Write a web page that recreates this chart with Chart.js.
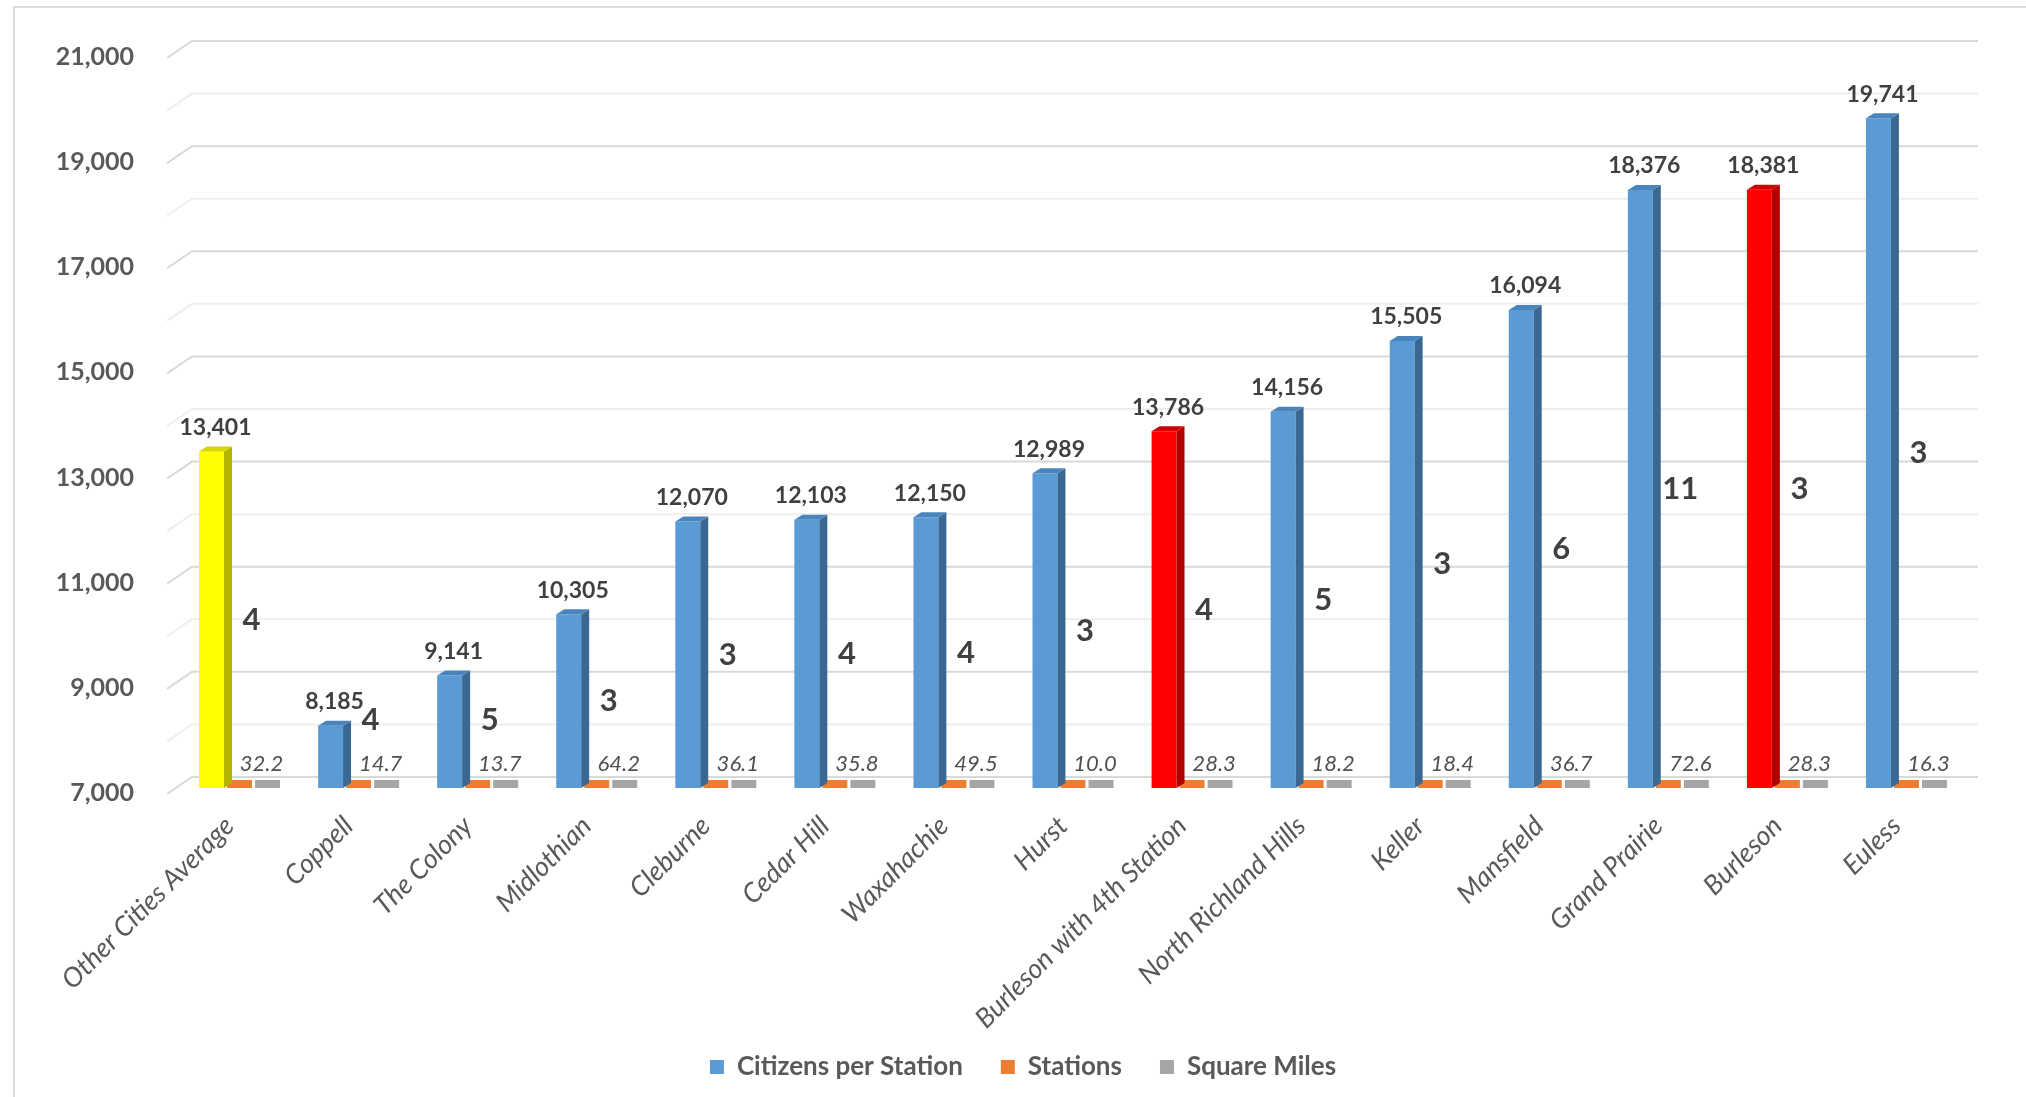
<!DOCTYPE html>
<html>
<head>
<meta charset="utf-8">
<script src="https://cdn.jsdelivr.net/npm/chart.js@4/dist/chart.umd.min.js"></script>
<style>
  body { margin: 0; background: #fff; overflow: hidden; }
  #wrap { position: absolute; left: 0; top: 0; width: 2026px; height: 1097px; }
  #frame { position: absolute; left: 13px; top: 6px; width: 2100px; height: 1200px; border: 2px solid #dcdcdc; box-sizing: border-box; }
</style>
</head>
<body>
<div id="frame"></div>
<div id="wrap"><canvas id="barChart"></canvas></div>
<script>
// datos
var ciudades = ['Other Cities Average', 'Coppell', 'The Colony', 'Midlothian', 'Cleburne', 'Cedar Hill', 'Waxahachie', 'Hurst',
  'Burleson with 4th Station', 'North Richland Hills', 'Keller', 'Mansfield', 'Grand Prairie', 'Burleson', 'Euless'];
var citizensPerStation = [13401, 8185, 9141, 10305, 12070, 12103, 12150, 12989, 13786, 14156, 15505, 16094, 18376, 18381, 19741];
var stations = [4, 4, 5, 3, 3, 4, 4, 3, 4, 5, 3, 6, 11, 3, 3];
var squareMiles = [32.2, 14.7, 13.7, 64.2, 36.1, 35.8, 49.5, 10.0, 28.3, 18.2, 18.4, 36.7, 72.6, 28.3, 16.3];
var yMin = 7000, yMax = 21000, yStep = 1000;

// colores: promedio en amarillo, Burleson en rojo
function colorFrente(c) {
  if (c === 'Other Cities Average') return '#FFFF00';
  if (c.indexOf('Burleson') === 0) return '#FF0000';
  return '#5B9BD5';
}
function colorLado(c) {
  if (c === 'Other Cities Average') return '#B5B500';
  if (c.indexOf('Burleson') === 0) return '#B00000';
  return '#3A6892';
}
function colorTapa(c) {
  if (c === 'Other Cities Average') return '#D6D600';
  if (c.indexOf('Burleson') === 0) return '#D40000';
  return '#4A84BD';
}

var fmt = function (v) { return Number(v).toLocaleString('en-US'); };

// lineas de la pared del fondo (efecto 3D como en Excel)
var paredFondo = {
  id: 'paredFondo',
  afterLayout: function (chart) {
    // las etiquetas inclinadas pueden bajar hasta la leyenda sin recortarse
    chart.scales.x.bottom = chart.height;
    // la leyenda del original esta algo desplazada a la derecha
    chart.legend.left += 40;
    chart.legend.right += 40;
  },
  beforeDatasetsDraw: function (chart) {
    var ctx = chart.ctx, y = chart.scales.y, a = chart.chartArea;
    ctx.save();
    ctx.lineWidth = 2;
    for (var v = yMin; v <= yMax; v += yStep) {
      var py = y.getPixelForValue(v);
      var mayor = (v - yMin) % 2000 === 0;
      ctx.strokeStyle = mayor ? '#d9d9d9' : '#eeeeee';
      ctx.beginPath();
      ctx.moveTo(a.left - 13, py + 6);
      ctx.lineTo(a.left + 12, py - 11);
      ctx.lineTo(a.right + 12, py - 11);
      ctx.stroke();
    }
    ctx.restore();
  }
};

// caras laterales y superiores de las columnas + etiquetas
var columnas3D = {
  id: 'columnas3D',
  afterDatasetsDraw: function (chart) {
    var ctx = chart.ctx;
    var dx = 8, dy = -5;
    var suelo = chart.chartArea.bottom;
    var m0 = chart.getDatasetMeta(0), m1 = chart.getDatasetMeta(1), m2 = chart.getDatasetMeta(2);
    ctx.save();
    m0.data.forEach(function (bar, i) {
      var c = ciudades[i];
      var l = bar.x - bar.width / 2, r = bar.x + bar.width / 2, t = bar.y, b = Math.min(bar.base, suelo);
      ctx.fillStyle = colorLado(c);
      ctx.beginPath();
      ctx.moveTo(r, t); ctx.lineTo(r + dx, t + dy); ctx.lineTo(r + dx, b + dy); ctx.lineTo(r, b);
      ctx.closePath(); ctx.fill();
      ctx.fillStyle = colorTapa(c);
      ctx.beginPath();
      ctx.moveTo(l, t); ctx.lineTo(r, t); ctx.lineTo(r + dx, t + dy); ctx.lineTo(l + dx, t + dy);
      ctx.closePath(); ctx.fill();

      // valor de habitantes por estacion
      ctx.fillStyle = '#404040';
      ctx.font = 'bold 23px Lato';
      ctx.textAlign = 'center';
      ctx.textBaseline = 'middle';
      ctx.fillText(fmt(citizensPerStation[i]), bar.x + 4, t - 24);

      // numero de estaciones, a media altura de la columna (sin pisar las millas)
      var o = m1.data[i];
      ctx.font = 'bold 31px Lato';
      ctx.fillText(String(stations[i]), o.x + 12, Math.min((t + b) / 2, b - 68));

      // millas cuadradas
      var g = m2.data[i];
      ctx.fillStyle = '#505050';
      ctx.font = 'italic 22px Lato';
      ctx.fillText(squareMiles[i].toFixed(1), g.x - 6, g.base - 24);
    });
    ctx.restore();
  }
};

var ctx = document.getElementById('barChart').getContext('2d');
var barChart = new Chart(ctx, {
  type: 'bar',
  data: {
    labels: ciudades,
    datasets: [
      { label: 'Citizens per Station', data: citizensPerStation, yAxisID: 'y',
        backgroundColor: ciudades.map(colorFrente) },
      { label: 'Stations', data: stations, yAxisID: 'y2',
        backgroundColor: '#ED7D31', minBarLength: 8 },
      { label: 'Square Miles', data: squareMiles, yAxisID: 'y2',
        backgroundColor: '#A5A5A5', minBarLength: 8 }
    ]
  },
  options: {
    responsive: true,
    maintainAspectRatio: false,
    animation: false,
    datasets: { bar: { categoryPercentage: 0.706, barPercentage: 0.89 } },
    layout: { padding: { left: 0, right: 60, top: 52, bottom: 7 } },
    plugins: {
      tooltip: { enabled: false },
      legend: {
        position: 'bottom',
        labels: {
          color: '#595959',
          font: { family: 'Lato', size: 26, weight: 'bold' },
          boxWidth: 14, boxHeight: 14, padding: 38,
          generateLabels: function (chart) {
            return chart.data.datasets.map(function (d, i) {
              return { text: d.label, fillStyle: i === 0 ? '#5B9BD5' : d.backgroundColor,
                strokeStyle: 'rgba(0,0,0,0)', lineWidth: 0, datasetIndex: i, fontColor: '#595959' };
            });
          }
        }
      }
    },
    scales: {
      x: {
        grid: { display: false, drawTicks: false },
        border: { display: false },
        ticks: {
          color: '#595959', autoSkip: false, minRotation: 45, maxRotation: 45, padding: 22, labelOffset: -10,
          font: { family: 'Lato', size: 27, style: 'italic' }
        },
        afterFit: function (s) { s.height = 228; }
      },
      y: {
        min: yMin, max: yMax,
        grid: { display: false, drawTicks: false },
        border: { display: false },
        ticks: {
          stepSize: yStep, padding: 46, labelOffset: 5, color: '#595959',
          font: { family: 'Lato', size: 25, weight: 'bold' },
          callback: function (v) { return (v - yMin) % 2000 === 0 ? fmt(v) : ''; }
        },
        // el padding de las etiquetas no debe empujar el area del grafico hacia abajo
        afterFit: function (s) { s.width = 180; s.paddingTop = 0; s.paddingBottom = 0; }
      },
      y2: { display: false, min: 0, max: 1000000 }
    }
  },
  plugins: [paredFondo, columnas3D]
});
</script>
</body>
</html>
